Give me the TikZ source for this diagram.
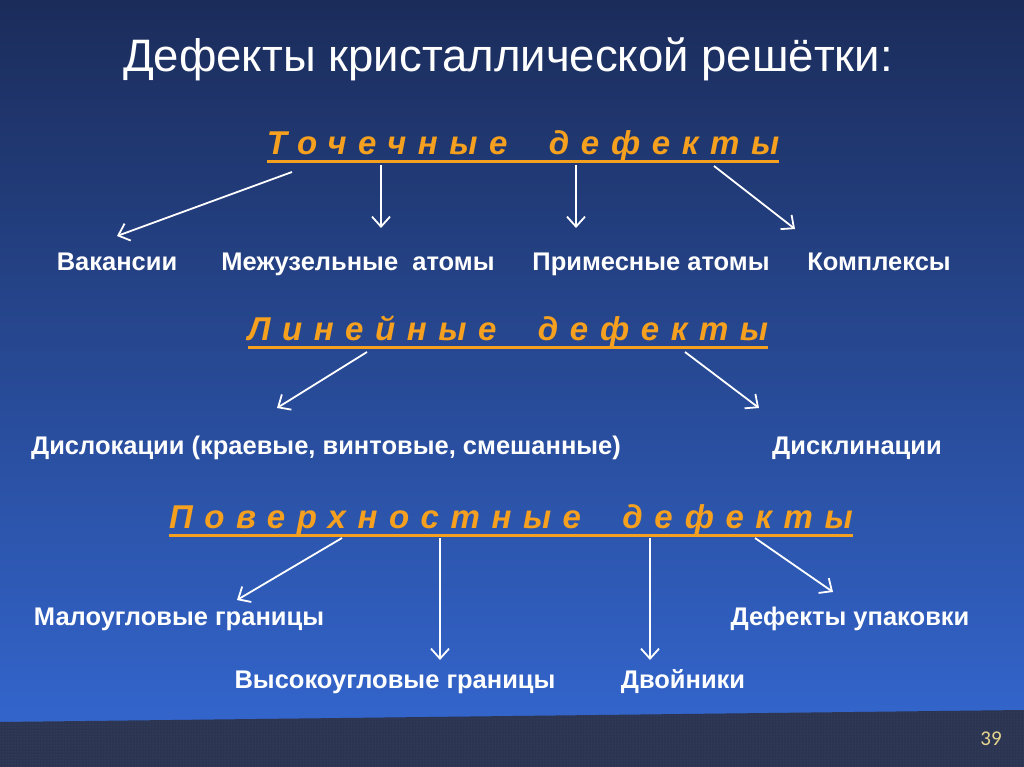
\documentclass[tikz,border=0pt]{standalone}
\usepackage{fontspec}
\setmainfont{Liberation Sans}
\newfontfamily\numfont{Carlito}
\usetikzlibrary{arrows.meta,patterns}

\definecolor{bgtop}{HTML}{1B2C5A}
\definecolor{bgbot}{HTML}{3365CC}
\definecolor{stripcol}{HTML}{2B3450}
\definecolor{dotcol}{HTML}{46557A}
\definecolor{headcol}{HTML}{F5A01E}
\definecolor{numcol}{HTML}{E6D58E}

\tikzset{
  head/.style={text=headcol, inner sep=0pt, anchor=base,
    font=\bfseries\itshape\fontsize{33}{38}\selectfont\addfontfeatures{LetterSpace=35}},
  item/.style={text=white, inner sep=0pt, anchor=base,
    font=\bfseries\fontsize{25.5}{30}\selectfont},
  uline/.style={draw=headcol, line width=3pt},
  link/.style={draw=white, line width=1.8pt, -{Straight Barb[length=10pt,width=18pt]}}
}

\begin{document}
\begin{tikzpicture}[x=1pt,y=-1pt]
    \useasboundingbox (0,0) rectangle (1024,767);
    \shade[top color=bgtop, bottom color=bgbot] (0,0) rectangle (1024,725);
    \fill[stripcol] (0,722) -- (1024,710) -- (1024,767) -- (0,767) -- cycle;
    \fill[pattern=dots, pattern color=dotcol] (0,722) -- (1024,710) -- (1024,767) -- (0,767) -- cycle;

    \node[text=white, anchor=base, inner sep=0pt, font=\fontsize{45.5}{54}\selectfont] (title) at (508,72) {Дефекты кристаллической решётки:};
    \node[text=numcol, inner sep=0pt, font=\numfont\fontsize{21}{24}\selectfont] (page) at (991,739) {39};

    % headings
    \node[head] (point) at (523,155) {Точечные\ \ дефекты};
    \node[head] (line) at (508,340) {Линейные\ \ дефекты};
    \node[head] (surf) at (511,528) {Поверхностные\ \ дефекты};
    \draw[uline] ([yshift=-7pt]point.base west) -- ([yshift=-7pt]point.base east);
    \draw[uline] ([yshift=-7pt]line.base west) -- ([yshift=-7pt]line.base east);
    \draw[uline] ([yshift=-7pt]surf.base west) -- ([yshift=-7pt]surf.base east);

    % items
    \node[item] (vak) at (117,270) {Вакансии};
    \node[item] (mezh) at (358,270) {Межузельные\ \ атомы};
    \node[item] (prim) at (651,270) {Примесные атомы};
    \node[item] (kompl) at (879,270) {Комплексы};
    \node[item] (disl) at (326,454) {Дислокации (краевые, винтовые, смешанные)};
    \node[item] (discl) at (857,454) {Дисклинации};
    \node[item] (malo) at (179,625) {Малоугловые границы};
    \node[item] (upak) at (850,625) {Дефекты упаковки};
    \node[item] (vys) at (395,688) {Высокоугловые границы};
    \node[item] (dvoj) at (683,688) {Двойники};

    % arrow ends
    \coordinate (p1) at (292,172); \coordinate (q1) at (117,236);
    \coordinate (p2) at (381,165); \coordinate (q2) at (381,228);
    \coordinate (p3) at (576,165); \coordinate (q3) at (576,228);
    \coordinate (p4) at (714,166); \coordinate (q4) at (795,229);
    \coordinate (p5) at (367,352); \coordinate (q5) at (277,408);
    \coordinate (p6) at (685,352); \coordinate (q6) at (759,408);
    \coordinate (p7) at (342,538); \coordinate (q7) at (237,600);
    \coordinate (p8) at (440,538); \coordinate (q8) at (440,660);
    \coordinate (p9) at (650,538); \coordinate (q9) at (650,660);
    \coordinate (p10) at (755,538); \coordinate (q10) at (833,592);

    \foreach \i in {1,...,10}
      \draw[link] (p\i) -- (q\i);
\end{tikzpicture}
\end{document}
